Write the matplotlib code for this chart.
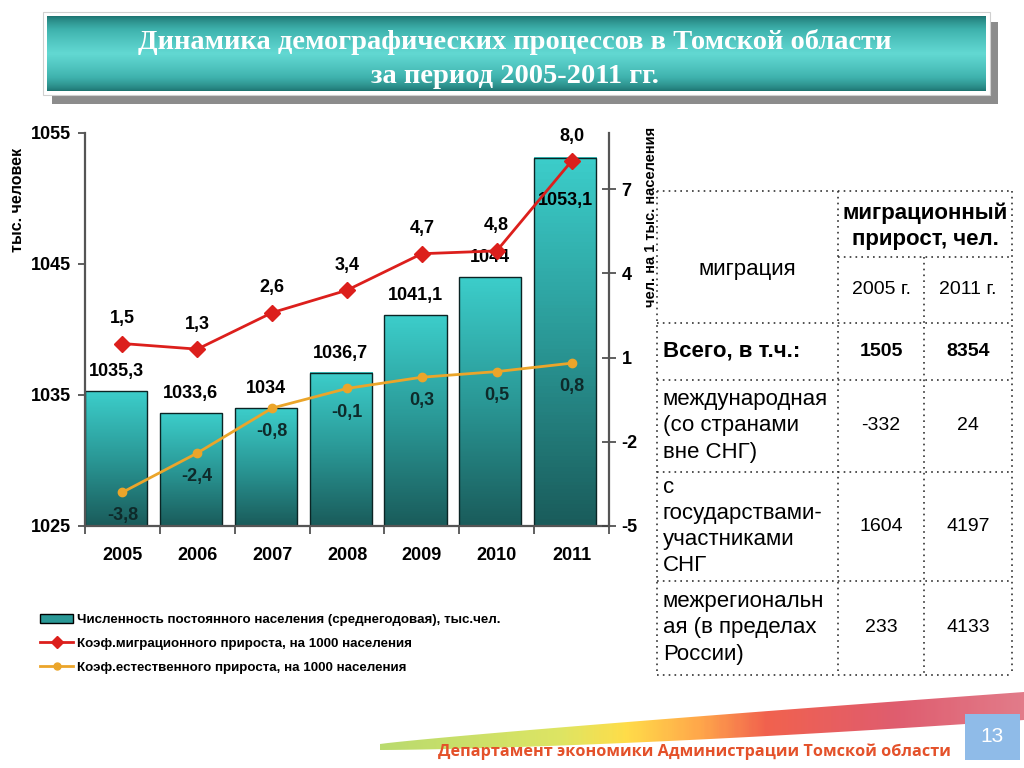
import numpy as np
import matplotlib.pyplot as plt
from matplotlib.colors import LinearSegmentedColormap
from matplotlib.patches import Rectangle, Polygon, Patch
from matplotlib.lines import Line2D

plt.rcParams['font.family'] = ['Liberation Sans', 'DejaVu Sans']
plt.rcParams['axes.unicode_minus'] = False

# chart data
years = ['2005', '2006', '2007', '2008', '2009', '2010', '2011']
population = [1035.3, 1033.6, 1034.0, 1036.7, 1041.1, 1044.0, 1053.1]
migration_rate = [1.5, 1.3, 2.6, 3.4, 4.7, 4.8, 8.0]
natural_rate = [-3.8, -2.4, -0.8, -0.1, 0.3, 0.5, 0.8]

left_ticks = [1025, 1035, 1045, 1055]
right_ticks = [-5, -2, 1, 4, 7]

title = 'Динамика демографических процессов в Томской области\nза период 2005-2011 гг.'
legend_labels = ['Численность постоянного населения (среднегодовая), тыс.чел.',
                 'Коэф.миграционного прироста, на 1000 населения',
                 'Коэф.естественного прироста, на 1000 населения']

# table data
table_rows = ['Всего, в т.ч.:',
              'международная\n(со странами\nвне СНГ)',
              'с\nгосударствами-\nучастниками\nСНГ',
              'межрегиональн\nая (в пределах\nРоссии)']
mig_2005 = [1505, -332, 1604, 233]
mig_2011 = [8354, 24, 4197, 4133]


def fmt(v, keep_zero=True):
    s = f'{v:.1f}'.replace('.', ',')
    if not keep_zero and s.endswith(',0'):
        s = s[:-2]
    return s


fig = plt.figure(figsize=(10.24, 7.68), dpi=100)

# background layer in pixel coordinates
bg = fig.add_axes([0, 0, 1, 1])
bg.set_xlim(0, 1024)
bg.set_ylim(768, 0)
bg.axis('off')

# title banner
bg.add_patch(Rectangle((52, 22), 946, 82, fc='#8c8c8c', ec='none'))
bg.add_patch(Rectangle((43, 12), 947, 83, fc='white', ec='#d0d0d0', lw=0.8))
t = np.linspace(0, 1, 200)
band = (1 - np.abs(t - 0.5) * 2) ** 0.7
banner_cmap = LinearSegmentedColormap.from_list('banner', ['#1c716e', '#3fb3ae', '#62d8d2'])
bg.imshow(band[:, None], extent=[47, 986, 91, 16], aspect='auto', cmap=banner_cmap, zorder=1)
bg.text(515, 59, title, ha='center', va='center', color='white', fontsize=20.5,
        fontweight='bold', family=['Liberation Serif'], linespacing=1.5, zorder=2)

# ---- chart ----
ax = fig.add_axes([85 / 1024, 1 - 526 / 768, (609 - 85) / 1024, (526 - 133) / 768])
ax.patch.set_alpha(0)
bar_cmap = LinearSegmentedColormap.from_list('bars', ['#1a5c5b', '#2a9896', '#3ccdca'])
grad = np.linspace(1, 0, 100)[:, None]
bar_w = 0.83
x = np.arange(len(years))

for i, v in enumerate(population):
    x0 = i - 0.5
    ax.imshow(grad, extent=[x0, x0 + bar_w, 1025, v], aspect='auto', cmap=bar_cmap,
              origin='upper', zorder=1)
    ax.add_patch(Rectangle((x0, 1025), bar_w, v - 1025, fill=False, ec='#0b2424', lw=1, zorder=2))
    off = -31 if v > 1050 else 14
    ax.annotate(fmt(v, keep_zero=False), (x0 + bar_w / 2, v), xytext=(0, off),
                textcoords='offset points', ha='center', va='center',
                fontsize=13, fontweight='bold', zorder=5)

ax.set_xlim(-0.5, len(years) - 0.5)
ax.set_ylim(1025, 1055)
ax.set_yticks(left_ticks)
ax.set_xticks(np.arange(-0.5, len(years), 1))
ax.set_xticklabels([])
ax.set_xticks(x, minor=True)
ax.set_xticklabels(years, minor=True)
ax.tick_params(axis='x', which='major', direction='out', length=6, width=1.2, color='#444')
ax.tick_params(axis='x', which='minor', length=0, pad=15, labelsize=13)
ax.tick_params(axis='y', direction='out', length=5, width=1.2, color='#444', pad=5, labelsize=13)
for lbl in ax.get_yticklabels() + ax.get_xticklabels(minor=True):
    lbl.set_fontweight('bold')
ax.spines['top'].set_visible(False)
ax.spines['right'].set_visible(False)
for s in ['left', 'bottom']:
    ax.spines[s].set_color('#555')
    ax.spines[s].set_linewidth(1.6)

ax2 = ax.twinx()
ax2.set_ylim(-5, 9)
ax2.set_yticks(right_ticks)
ax2.tick_params(axis='y', direction='inout', length=10, width=1.2, color='#444', pad=4, labelsize=13)
for lbl in ax2.get_yticklabels():
    lbl.set_fontweight('bold')
for s in ['top', 'left', 'bottom']:
    ax2.spines[s].set_visible(False)
ax2.spines['right'].set_color('#555')
ax2.spines['right'].set_linewidth(1.6)

red = '#dc1f1c'
orange = '#eba52a'
ax2.plot(x, migration_rate, color=red, lw=2, marker='D', ms=8, zorder=4)
ax2.plot(x, natural_rate, color=orange, lw=2, marker='o', ms=6, zorder=4)
for i in range(len(years)):
    ax2.annotate(fmt(migration_rate[i]), (x[i], migration_rate[i]), xytext=(0, 18),
                 textcoords='offset points', ha='center', va='center',
                 fontsize=13, fontweight='bold')
    ax2.annotate(fmt(natural_rate[i]), (x[i], natural_rate[i]), xytext=(0, -17),
                 textcoords='offset points', ha='center', va='center',
                 fontsize=13, fontweight='bold', color='#0e2a2a')

fig.text(18 / 1024, 1 - 200 / 768, 'тыс. человек', rotation=90, ha='center', va='center',
         fontsize=11.5, fontweight='bold')
fig.text(651 / 1024, 1 - 217 / 768, 'чел. на 1 тыс. населения', rotation=90, ha='center',
         va='center', fontsize=10.5, fontweight='bold')

handles = [Patch(fc='#2a9896', ec='black', lw=1),
           Line2D([], [], color=red, lw=2, marker='D', ms=6),
           Line2D([], [], color=orange, lw=2, marker='o', ms=5)]
fig.legend(handles, legend_labels, loc='upper left', bbox_to_anchor=(40 / 1024, 1 - 614 / 768),
           frameon=False, prop={'weight': 'bold', 'size': 9.6}, handlelength=2.5,
           handletextpad=0.25, labelspacing=0.85, borderpad=0, borderaxespad=0)

# ---- table ----
dot = dict(color='#333333', lw=1.2, linestyle=(0, (1, 2.5)))
tx0, tx1, tx2, tx3 = 657, 838, 924, 1012
hlines = [(191, tx0), (257, tx1), (323, tx0), (380, tx0), (472, tx0), (581, tx0), (675, tx0)]
for y, xs in hlines:
    bg.plot([xs, tx3], [y, y], **dot)
bg.plot([tx0, tx0], [191, 675], **dot)
bg.plot([tx1, tx1], [191, 675], **dot)
bg.plot([tx3, tx3], [191, 675], **dot)
bg.plot([tx2, tx2], [257, 675], **dot)

bg.text((tx0 + tx1) / 2, 270, 'миграция', ha='center', va='center', fontsize=16)
bg.text((tx1 + tx3) / 2, 226, 'миграционный\nприрост, чел.', ha='center', va='center',
        fontsize=16, fontweight='bold', linespacing=1.3)
bg.text((tx1 + tx2) / 2, 290, '2005 г.', ha='center', va='center', fontsize=14)
bg.text((tx2 + tx3) / 2, 290, '2011 г.', ha='center', va='center', fontsize=14)

row_bounds = [323, 380, 472, 581, 675]
for i, name in enumerate(table_rows):
    yc = (row_bounds[i] + row_bounds[i + 1]) / 2
    w = 'bold' if i == 0 else 'normal'
    bg.text(663, yc, name, ha='left', va='center', fontsize=16, fontweight=w, linespacing=1.33)
    bg.text((tx1 + tx2) / 2, yc, str(mig_2005[i]), ha='center', va='center', fontsize=14, fontweight=w)
    bg.text((tx2 + tx3) / 2, yc, str(mig_2011[i]), ha='center', va='center', fontsize=14, fontweight=w)

# ---- footer swoosh ----
xs = np.linspace(380, 1024, 80)
u = (xs - 380) / 644
top = 744 - u ** 0.9 * 52
bot = 750 - u ** 1.5 * 30
poly = Polygon(np.column_stack([np.r_[xs, xs[::-1]], np.r_[top, bot[::-1]]]), closed=True,
               fc='none', ec='none')
bg.add_patch(poly)
sw_cmap = LinearSegmentedColormap.from_list(
    'sw', [(0, '#a8d24a'), (0.28, '#d6df3c'), (0.38, '#ffd51c'), (0.5, '#ff8f1e'),
           (0.6, '#ee3a22'), (0.8, '#d8344a'), (1, '#db5a6c')])
im = bg.imshow(np.linspace(0, 1, 300)[None, :], extent=[380, 1024, 752, 688], aspect='auto',
               cmap=sw_cmap, alpha=0.8, zorder=1)
im.set_clip_path(poly)
bg.set_xlim(0, 1024)
bg.set_ylim(768, 0)

bg.add_patch(Rectangle((965, 714), 55, 46, fc='#8fbbe8', ec='none', zorder=2))
bg.text(992, 737, '13', ha='center', va='center', color='white', fontsize=15, zorder=3)
bg.text(694, 752, 'Департамент экономики Администрации Томской области', ha='center',
        va='center', color='#e4512a', fontsize=11.7, fontweight='bold', family=['Open Sans'], zorder=3)

fig.savefig('out.png', dpi=100)
